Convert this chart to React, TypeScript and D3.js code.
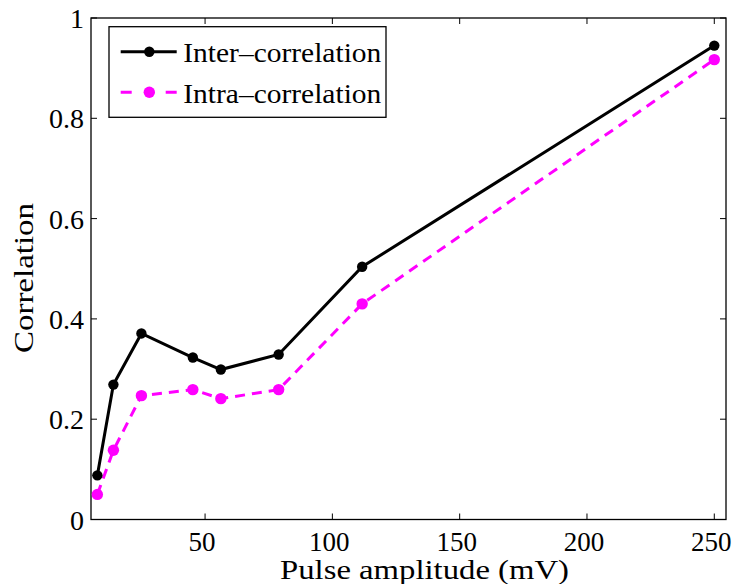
import React from "react";
import * as d3 from "d3";

const amplitudes = [7.7, 14, 25, 45.2, 56.2, 78.9, 111.7, 250];
const interCorr = [0.088, 0.269, 0.371, 0.323, 0.299, 0.329, 0.504, 0.945];
const intraCorr = [0.05, 0.138, 0.247, 0.259, 0.241, 0.259, 0.43, 0.917];
const xTicks = [50, 100, 150, 200, 250];
const yTicks = [0, 0.2, 0.4, 0.6, 0.8, 1];
const seriesNames = ["Inter\u2013correlation", "Intra\u2013correlation"];

const W = 738, H = 584;
const L = 91, R = 726, T = 18, B = 519.5;
const FONT = "Liberation Serif, Times New Roman, Times, serif";

export default function App() {
  const x = d3.scaleLinear().domain([5.2, 254.6]).range([L, R]);
  const y = d3.scaleLinear().domain([0, 1]).range([B, T]);
  const line = d3.line<number>().x((_, i) => x(amplitudes[i])).y((d) => y(d));
  const tl = 6;
  const magenta = "#ff00ff";
  const ts = { fontFamily: FONT };
  return (
    <svg width={W} height={H} style={{ position: "absolute", left: 0, top: 0, background: "#fff", fontFamily: FONT }}>
      <rect x={0} y={0} width={W} height={H} fill="#fff" />
      {xTicks.map((t) => (
        <g key={"x" + t}>
          <line x1={x(t)} x2={x(t)} y1={B} y2={B - tl} stroke="#000" strokeWidth={1} />
          <line x1={x(t)} x2={x(t)} y1={T} y2={T + tl} stroke="#000" strokeWidth={1} />
          <text x={x(t) - 3} y={551} fontSize={27} textAnchor="middle" fill="#000" style={ts}>{t}</text>
        </g>
      ))}
      {yTicks.map((t) => (
        <g key={"y" + t}>
          <line x1={L} x2={L + tl} y1={y(t)} y2={y(t)} stroke="#000" strokeWidth={1} />
          <line x1={R} x2={R - tl} y1={y(t)} y2={y(t)} stroke="#000" strokeWidth={1} />
          <text x={84} y={y(t) + 10} fontSize={28} textAnchor="end" fill="#000" style={ts}>{String(t)}</text>
        </g>
      ))}
      <rect x={L} y={T} width={R - L} height={B - T} fill="none" stroke="#000" strokeWidth={1.3} />
      <path d={line(interCorr) || ""} fill="none" stroke="#000" strokeWidth={3} />
      <path d={line(intraCorr) || ""} fill="none" stroke={magenta} strokeWidth={3} strokeDasharray="10,7" />
      {interCorr.map((v, i) => (
        <circle key={"a" + i} cx={x(amplitudes[i])} cy={y(v)} r={5.2} fill="#000" />
      ))}
      {intraCorr.map((v, i) => (
        <circle key={"b" + i} cx={x(amplitudes[i])} cy={y(v)} r={5.7} fill={magenta} />
      ))}
      <rect x={109} y={26.7} width={277} height={90.6} fill="#fff" stroke="#000" strokeWidth={1.3} />
      <line x1={120.7} x2={176.7} y1={51.7} y2={51.7} stroke="#000" strokeWidth={3} />
      <circle cx={149.3} cy={51.7} r={5.2} fill="#000" />
      <text x={183.3} y={62.3} fontSize={27} fill="#000" style={ts} textLength={198} lengthAdjust="spacingAndGlyphs">{seriesNames[0]}</text>
      <line x1={120.7} x2={176.7} y1={92.3} y2={92.3} stroke={magenta} strokeWidth={3} strokeDasharray="11,34" />
      <circle cx={149.3} cy={92.3} r={5.7} fill={magenta} />
      <text x={183.3} y={103} fontSize={27} fill="#000" style={ts} textLength={198} lengthAdjust="spacingAndGlyphs">{seriesNames[1]}</text>
      <text x={280} y={579} fontSize={27} fill="#000" style={ts} textLength={289} lengthAdjust="spacingAndGlyphs">Pulse amplitude (mV)</text>
      <text transform={`translate(33,353) rotate(-90)`} fontSize={27} fill="#000" style={ts} textLength={150} lengthAdjust="spacingAndGlyphs">Correlation</text>
    </svg>
  );
}
